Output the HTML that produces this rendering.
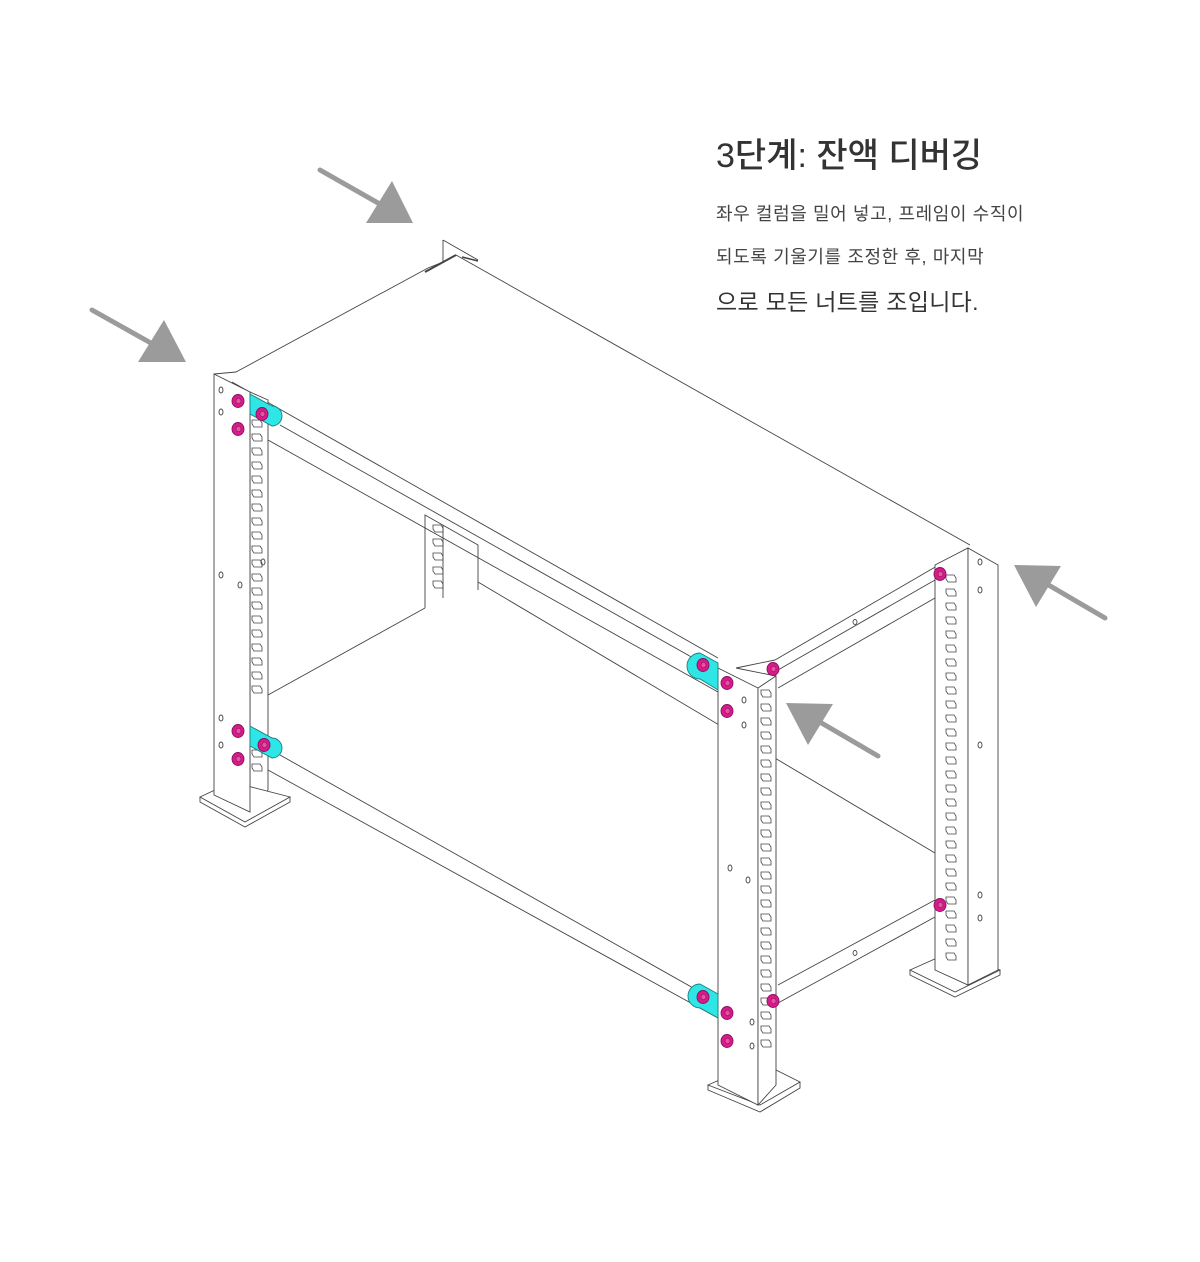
<!DOCTYPE html>
<html><head><meta charset="utf-8"><style>
html,body{margin:0;padding:0;background:#fff;width:1200px;height:1262px;overflow:hidden}
.t{position:absolute;left:716px;font-family:"Liberation Sans","Noto Sans CJK KR",sans-serif;color:#333;white-space:nowrap}
</style></head><body>
<div class="t" style="top:128px;font-size:34px;font-weight:500">3단계: 잔액 디버깅</div>
<div class="t" style="top:200px;font-size:18px;letter-spacing:0.6px;color:#444">좌우 컬럼을 밀어 넣고, 프레임이 수직이</div>
<div class="t" style="top:243px;font-size:18px;letter-spacing:0.6px;color:#444">되도록 기울기를 조정한 후, 마지막</div>
<div class="t" style="top:283px;font-size:23px;letter-spacing:0.3px">으로 모든 너트를 조입니다.</div>
<svg width="1200" height="1262" style="position:absolute;left:0;top:0" fill="none" stroke="#444" stroke-width="0.9">
<defs>
<g id="slot"><path d="M0 0 h8 l2 3 v4 h-8 l-2 -3z" stroke-width="0.8"/></g>
<g id="bolt"><ellipse cx="0" cy="0" rx="6" ry="6.5" fill="#d81b8a" stroke="#8a1060"/><ellipse cx="0.5" cy="0" rx="2.5" ry="2.8" fill="#e8539f" stroke="#8a1060" stroke-width="0.6"/></g>
</defs>
<g fill="#9b9b9b" stroke="#9b9b9b">
<line x1="320" y1="170" x2="385" y2="207" stroke-width="5" stroke-linecap="round"/><polygon points="413,223 366,223 392,181" stroke="none"/>
<line x1="92" y1="310" x2="158" y2="347" stroke-width="5" stroke-linecap="round"/><polygon points="186,362 138,362 164,320" stroke="none"/>
<line x1="1105" y1="618" x2="1040" y2="580" stroke-width="5" stroke-linecap="round"/><polygon points="1014,565 1061,566 1036,607" stroke="none"/>
<line x1="878" y1="756" x2="813" y2="718" stroke-width="5" stroke-linecap="round"/><polygon points="786,703 833,704 808,745" stroke="none"/>
</g>
<line x1="236" y1="372" x2="428" y2="268"/>
<polyline points="443,240 443,262 428,268"/>
<line x1="443" y1="240" x2="478" y2="260"/>
<line x1="425" y1="272" x2="456" y2="255" stroke-width="2"/>
<line x1="456" y1="255" x2="970" y2="545"/>
<line x1="462" y1="257" x2="478" y2="261" stroke-width="1.5"/>
<line x1="232" y1="382" x2="718" y2="658"/>
<line x1="280" y1="425" x2="718" y2="672"/>
<line x1="268" y1="440" x2="718" y2="692"/>
<line x1="736" y1="668" x2="775" y2="660"/>
<line x1="775" y1="660" x2="968" y2="548"/>
<line x1="778" y1="670" x2="935" y2="580"/>
<line x1="778" y1="688" x2="935" y2="598"/>
<ellipse cx="855" cy="622" rx="2" ry="2.5"/>
<line x1="268" y1="695" x2="425" y2="608"/>
<line x1="478" y1="582" x2="935" y2="853"/>
<line x1="280" y1="755" x2="718" y2="1002"/>
<line x1="268" y1="770" x2="718" y2="1018"/>
<line x1="778" y1="985" x2="935" y2="900"/>
<line x1="778" y1="1003" x2="935" y2="917"/>
<ellipse cx="855" cy="953" rx="2" ry="2.5"/>
<polyline points="425,608 425,515 478,545 478,590"/>
<line x1="443" y1="525" x2="443" y2="598"/>
<g transform="translate(433,525)"><use href="#slot"/><use href="#slot" y="14"/><use href="#slot" y="28"/><use href="#slot" y="42"/><use href="#slot" y="56"/></g>
<polygon points="250,392 268,400 268,790 250,812" fill="#fff"/>
<polygon points="200,797 232,782 290,797 245,822" fill="#fff"/>
<polyline points="200,797 200,802 245,827 290,802 290,797"/>
<polygon points="214,374 250,392 250,812 214,795" fill="#fff"/>
<line x1="214" y1="374" x2="236" y2="372"/>
<ellipse cx="221" cy="390" rx="2" ry="3"/><ellipse cx="221" cy="412" rx="2" ry="3"/>
<ellipse cx="221" cy="575" rx="2" ry="3"/><ellipse cx="240" cy="585" rx="2" ry="3"/>
<ellipse cx="221" cy="718" rx="2" ry="3"/><ellipse cx="221" cy="745" rx="2" ry="3"/>
<ellipse cx="263" cy="562" rx="2" ry="3"/>
<g transform="translate(252,420)">
<use href="#slot"/><use href="#slot" y="14"/><use href="#slot" y="28"/><use href="#slot" y="42"/><use href="#slot" y="56"/><use href="#slot" y="70"/><use href="#slot" y="84"/><use href="#slot" y="98"/><use href="#slot" y="112"/><use href="#slot" y="126"/><use href="#slot" y="140"/><use href="#slot" y="154"/><use href="#slot" y="168"/><use href="#slot" y="182"/><use href="#slot" y="196"/><use href="#slot" y="210"/><use href="#slot" y="224"/><use href="#slot" y="238"/><use href="#slot" y="252"/><use href="#slot" y="266"/><use href="#slot" y="330"/><use href="#slot" y="344"/></g>
<polygon points="910,970 955,950 1000,970 955,992" fill="#fff"/>
<polyline points="910,970 910,975 955,997 1000,975 1000,970"/>
<polygon points="935,565 968,548 968,985 935,970" fill="#fff"/>
<polygon points="968,548 998,565 998,970 968,985" fill="#fff"/>
<ellipse cx="980" cy="562" rx="2" ry="3"/><ellipse cx="980" cy="590" rx="2" ry="3"/>
<ellipse cx="980" cy="745" rx="2" ry="3"/><ellipse cx="980" cy="895" rx="2" ry="3"/><ellipse cx="980" cy="918" rx="2" ry="3"/>
<g transform="translate(946,575)">
<use href="#slot"/><use href="#slot" y="14"/><use href="#slot" y="28"/><use href="#slot" y="42"/><use href="#slot" y="56"/><use href="#slot" y="70"/><use href="#slot" y="84"/><use href="#slot" y="98"/><use href="#slot" y="112"/><use href="#slot" y="126"/><use href="#slot" y="140"/><use href="#slot" y="154"/><use href="#slot" y="168"/><use href="#slot" y="182"/><use href="#slot" y="196"/><use href="#slot" y="210"/><use href="#slot" y="224"/><use href="#slot" y="238"/><use href="#slot" y="252"/><use href="#slot" y="266"/><use href="#slot" y="280"/><use href="#slot" y="294"/><use href="#slot" y="308"/><use href="#slot" y="322"/><use href="#slot" y="336"/><use href="#slot" y="350"/><use href="#slot" y="364"/><use href="#slot" y="378"/></g>
<polygon points="708,1085 760,1062 800,1082 760,1105" fill="#fff"/>
<polyline points="708,1085 708,1090 760,1112 800,1088 800,1082"/>
<polygon points="718,668 758,688 758,1105 718,1085" fill="#fff"/>
<polygon points="758,688 776,676 776,1085 758,1105" fill="#fff"/>
<line x1="736" y1="668" x2="776" y2="676"/>
<ellipse cx="744" cy="700" rx="2" ry="3"/><ellipse cx="744" cy="725" rx="2" ry="3"/>
<ellipse cx="730" cy="868" rx="2" ry="3"/><ellipse cx="748" cy="880" rx="2" ry="3"/>
<ellipse cx="752" cy="1022" rx="2" ry="3"/><ellipse cx="752" cy="1046" rx="2" ry="3"/>
<g transform="translate(761,690)">
<use href="#slot"/><use href="#slot" y="14"/><use href="#slot" y="28"/><use href="#slot" y="42"/><use href="#slot" y="56"/><use href="#slot" y="70"/><use href="#slot" y="84"/><use href="#slot" y="98"/><use href="#slot" y="112"/><use href="#slot" y="126"/><use href="#slot" y="140"/><use href="#slot" y="154"/><use href="#slot" y="168"/><use href="#slot" y="182"/><use href="#slot" y="196"/><use href="#slot" y="210"/><use href="#slot" y="224"/><use href="#slot" y="238"/><use href="#slot" y="252"/><use href="#slot" y="266"/><use href="#slot" y="280"/><use href="#slot" y="294"/><use href="#slot" y="308"/><use href="#slot" y="322"/><use href="#slot" y="336"/><use href="#slot" y="350"/></g>
<g fill="#2ee6e6" stroke="#1a8080">
<path d="M250 394 L272 406 A10 10 0 0 1 272 426 L250 414Z"/>
<path d="M250 726 L272 738 A10 10 0 0 1 272 758 L250 746Z"/>
<path d="M700 653 L718 663 L718 690 L700 679 A13 13 0 0 1 700 653Z"/>
<path d="M700 984 L718 994 L718 1018 L700 1008 A12 12 0 0 1 700 984Z"/>
</g>
<use href="#bolt" x="238" y="401"/><use href="#bolt" x="238" y="429"/><use href="#bolt" x="262" y="414"/>
<use href="#bolt" x="238" y="731"/><use href="#bolt" x="238" y="759"/><use href="#bolt" x="264" y="745"/>
<use href="#bolt" x="703" y="665"/><use href="#bolt" x="727" y="683"/><use href="#bolt" x="727" y="711"/>
<use href="#bolt" x="703" y="997"/><use href="#bolt" x="727" y="1013"/><use href="#bolt" x="727" y="1041"/>
<use href="#bolt" x="773" y="669"/><use href="#bolt" x="773" y="1001"/>
<use href="#bolt" x="940" y="574"/><use href="#bolt" x="940" y="905"/>
</svg>
</body></html>
